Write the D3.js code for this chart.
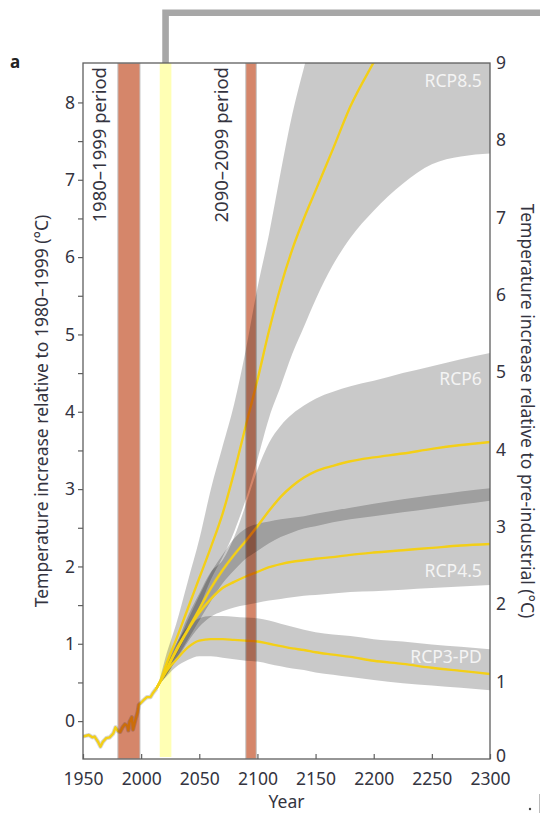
<!DOCTYPE html>
<html lang="en">
<head>
  <meta charset="UTF-8">
  <title>RCP temperature projections</title>
  <style>
    body { margin: 0; background: #fff; }
    text { font-family: "Noto Sans", "Open Sans", sans-serif; }
  </style>
</head>
<body>
  <svg id="chart" width="540" height="813"></svg>

  <script src="https://cdn.jsdelivr.net/npm/d3@7"></script>
  <script>
    // observed record (relative to 1980-1999)
    var histYears = [1950, 1955, 1958, 1960, 1963, 1965, 1967, 1970, 1973, 1976, 1978, 1980, 1982, 1984,
      1986, 1988, 1989, 1990, 1992, 1993, 1995, 1997, 1998, 2002, 2005, 2008, 2010, 2013];
    var histTemp = [-0.20, -0.18, -0.21, -0.20, -0.27, -0.33, -0.27, -0.22, -0.21, -0.16, -0.08, -0.13, -0.14, -0.08,
      -0.04, -0.06, -0.12, -0.01, 0.05, -0.11, 0.01, 0.12, 0.21, 0.27, 0.31, 0.31, 0.36, 0.42];

    // projection years shared by all scenarios
    var projYears = [2013, 2016, 2022, 2030, 2040, 2050, 2060, 2070, 2080, 2090, 2100, 2110, 2120, 2130,
      2140, 2150, 2165, 2180, 2200, 2225, 2250, 2275, 2300];

    var rcp85Mean = [0.42, 0.50, 0.75, 1.05, 1.45, 1.85, 2.25, 2.68, 3.22, 3.82, 4.41, 5.05, 5.62, 6.10,
      6.50, 6.86, 7.40, 7.95, 8.52, 9.20, 9.80, 10.30, 10.70];
    var rcp85Low = [0.42, 0.50, 0.65, 0.85, 1.15, 1.47, 1.83, 2.12, 2.45, 2.87, 3.38, 3.92, 4.33, 4.75,
      5.10, 5.45, 5.90, 6.25, 6.60, 6.95, 7.20, 7.30, 7.34];
    var rcp85High = [0.42, 0.55, 0.88, 1.25, 1.80, 2.35, 3.00, 3.55, 4.10, 4.80, 5.60, 6.30, 7.10, 7.85,
      8.45, 9.00, 9.80, 10.50, 11.20, 11.80, 12.30, 12.70, 13.00];

    var rcp6Mean = [0.42, 0.50, 0.68, 0.92, 1.18, 1.45, 1.72, 1.95, 2.15, 2.33, 2.52, 2.72, 2.90, 3.04,
      3.15, 3.23, 3.30, 3.36, 3.41, 3.46, 3.52, 3.57, 3.61];
    var rcp6Low = [0.42, 0.48, 0.60, 0.80, 1.05, 1.30, 1.55, 1.78, 1.95, 2.10, 2.20, 2.30, 2.38, 2.44,
      2.49, 2.52, 2.57, 2.61, 2.65, 2.70, 2.75, 2.80, 2.85];
    var rcp6High = [0.42, 0.52, 0.72, 0.98, 1.35, 1.65, 1.93, 2.08, 2.38, 2.80, 3.25, 3.60, 3.82, 3.97,
      4.08, 4.17, 4.26, 4.33, 4.40, 4.50, 4.59, 4.68, 4.76];

    var rcp45Mean = [0.42, 0.50, 0.67, 0.90, 1.17, 1.40, 1.58, 1.72, 1.80, 1.87, 1.93, 1.99, 2.03, 2.06,
      2.08, 2.10, 2.12, 2.15, 2.18, 2.21, 2.24, 2.27, 2.29];
    var rcp45Low = [0.42, 0.48, 0.60, 0.78, 1.02, 1.22, 1.35, 1.42, 1.47, 1.50, 1.53, 1.56, 1.58, 1.60,
      1.62, 1.63, 1.65, 1.67, 1.68, 1.70, 1.72, 1.74, 1.76];
    var rcp45High = [0.42, 0.52, 0.70, 0.95, 1.30, 1.62, 1.92, 2.15, 2.36, 2.49, 2.55, 2.58, 2.61, 2.63,
      2.65, 2.68, 2.72, 2.76, 2.81, 2.87, 2.92, 2.97, 3.01];

    var rcp3Mean = [0.42, 0.50, 0.65, 0.79, 0.95, 1.04, 1.06, 1.06, 1.05, 1.04, 1.03, 1.00, 0.97, 0.94,
      0.92, 0.89, 0.86, 0.83, 0.78, 0.74, 0.69, 0.65, 0.61];
    var rcp3Low = [0.42, 0.48, 0.58, 0.70, 0.79, 0.84, 0.84, 0.82, 0.80, 0.78, 0.77, 0.74, 0.71, 0.68,
      0.66, 0.63, 0.60, 0.57, 0.53, 0.49, 0.46, 0.43, 0.40];
    var rcp3High = [0.42, 0.52, 0.75, 1.00, 1.22, 1.33, 1.36, 1.36, 1.35, 1.34, 1.33, 1.30, 1.26, 1.22,
      1.18, 1.15, 1.12, 1.10, 1.06, 1.03, 0.99, 0.96, 0.93];

    var scenarioNames = ["RCP8.5", "RCP6", "RCP4.5", "RCP3-PD"];
    var scenarioMeans = [rcp85Mean, rcp6Mean, rcp45Mean, rcp3Mean];
    var scenarioLows = [rcp85Low, rcp6Low, rcp45Low, rcp3Low];
    var scenarioHighs = [rcp85High, rcp6High, rcp45High, rcp3High];
    // where each name sits: year it ends at, and temperature of its baseline
    var labelYear = [2293, 2293, 2293, 2293];
    var labelTemp = [8.2, 4.35, 1.86, 0.75];

    var periodStart = [1980, 2090];
    var periodEnd = [1999, 2099];
    var periodLabels = ["1980\u20131999 period", "2090\u20132099 period"];
    var nowStart = 2016, nowEnd = 2026;

    var yearTicks = [1950, 2000, 2050, 2100, 2150, 2200, 2250, 2300];
    var leftTicks = [0, 1, 2, 3, 4, 5, 6, 7, 8];
    var leftMinor = [0.5, 1.5, 2.5, 3.5, 4.5, 5.5, 6.5, 7.5];
    var rightTicks = [0, 1, 2, 3, 4, 5, 6, 7, 8, 9];

    var svg = d3.select("#chart"),
      margin = { top: 63, right: 50, bottom: 54, left: 83 },
      width = 540 - margin.left - margin.right,
      height = 813 - margin.top - margin.bottom;

    var x = d3.scaleLinear().domain([1950, 2300]).range([margin.left, margin.left + width]),
      yL = d3.scaleLinear().domain([-0.49, 8.51]).range([margin.top + height, margin.top]),
      yR = d3.scaleLinear().domain([0, 9]).range([margin.top + height, margin.top]);

    var fontSize = 17.5,
      ink = "#34343f",
      gold = "#f3cf17",
      barColor = "#d5866a";

    svg.append("defs").append("clipPath").attr("id", "plot")
      .append("rect")
      .attr("x", margin.left).attr("y", margin.top)
      .attr("width", width).attr("height", height);

    var plot = svg.append("g").attr("clip-path", "url(#plot)");

    // grey ranges
    scenarioNames.forEach(function(name, i) {
      var pts = projYears.map(function(yr, j) {
        return { year: yr, lo: scenarioLows[i][j], hi: scenarioHighs[i][j] };
      });
      plot.append("path")
        .datum(pts)
        .attr("fill", "#000")
        .attr("fill-opacity", 0.21)
        .attr("d", d3.area()
          .curve(d3.curveMonotoneX)
          .x(function(d) { return x(d.year); })
          .y0(function(d) { return yL(d.lo); })
          .y1(function(d) { return yL(d.hi); }));
    });

    // observed line with faint grey halo
    var hist = histYears.map(function(yr, j) { return { year: yr, t: histTemp[j] }; });
    var histLine = d3.line()
      .x(function(d) { return x(d.year); })
      .y(function(d) { return yL(d.t); });
    plot.append("path").datum(hist)
      .attr("fill", "none").attr("stroke", "#8a8a8a").attr("stroke-opacity", 0.35)
      .attr("stroke-width", 4.2).attr("stroke-linejoin", "round")
      .attr("d", histLine);
    plot.append("path").datum(hist)
      .attr("fill", "none").attr("stroke", gold)
      .attr("stroke-width", 2.4).attr("stroke-linejoin", "round")
      .attr("d", histLine);

    // scenario means
    var meanLine = d3.line()
      .curve(d3.curveMonotoneX)
      .x(function(d) { return x(d.year); })
      .y(function(d) { return yL(d.t); });
    scenarioMeans.forEach(function(vals) {
      var pts = projYears.map(function(yr, j) { return { year: yr, t: vals[j] }; });
      plot.append("path").datum(pts)
        .attr("fill", "none").attr("stroke", gold)
        .attr("stroke-width", 2.4)
        .attr("d", meanLine);
    });

    // period bars and the pale "now" bar, multiplied over everything below
    plot.selectAll(".period")
      .data(periodStart)
      .enter().append("rect")
      .attr("class", "period")
      .attr("x", function(d) { return x(d); })
      .attr("width", function(d, i) { return x(periodEnd[i]) - x(d); })
      .attr("y", margin.top)
      .attr("height", height)
      .attr("fill", barColor)
      .attr("stroke", "#c4c4c4")
      .attr("stroke-width", 1)
      .style("mix-blend-mode", "multiply");

    plot.append("rect")
      .attr("x", x(nowStart))
      .attr("width", x(nowEnd) - x(nowStart))
      .attr("y", margin.top)
      .attr("height", height - 2)
      .attr("fill", "#ffffb4")
      .style("mix-blend-mode", "multiply");

    // grey bracket leading off to the right
    var midNow = (x(nowStart) + x(nowEnd)) / 2;
    svg.append("path")
      .attr("d", "M" + midNow + "," + margin.top + "V12.7H540")
      .attr("fill", "none")
      .attr("stroke", "#a7a7a7")
      .attr("stroke-width", 6.6);

    // frame
    svg.append("rect")
      .attr("x", margin.left).attr("y", margin.top)
      .attr("width", width).attr("height", height)
      .attr("fill", "none").attr("stroke", "#5f5f5f").attr("stroke-width", 1.3);

    // axes
    svg.append("g").attr("transform", "translate(" + margin.left + ",0)")
      .call(d3.axisLeft(yL).tickValues(leftTicks).tickSize(5).tickPadding(3).tickFormat(d3.format("d")));
    svg.append("g").attr("transform", "translate(" + margin.left + ",0)")
      .call(d3.axisLeft(yL).tickValues(leftMinor).tickSize(5).tickFormat(""));
    var gRight = svg.append("g").attr("transform", "translate(" + (margin.left + width) + ",0)")
      .call(d3.axisRight(yR).tickValues(rightTicks).tickSize(0).tickPadding(6).tickFormat(d3.format("d")));
    svg.append("g").attr("transform", "translate(0," + (margin.top + height) + ")")
      .call(d3.axisBottom(x).tickValues(yearTicks).tickSize(-5).tickPadding(14).tickFormat(d3.format("d")));

    svg.selectAll(".domain").remove();
    svg.selectAll(".tick line").attr("stroke", "#5f5f5f").attr("stroke-width", 1.2);
    svg.selectAll(".tick text")
      .attr("fill", ink)
      .style("font-size", fontSize + "px")
      .style("font-family", "'Noto Sans', sans-serif");
    // the right-hand zero sits tight against the year labels
    gRight.selectAll(".tick text").filter(function(d) { return d === 0; }).attr("dy", "0.12em");

    // axis titles
    svg.append("text")
      .attr("transform", "translate(48," + (margin.top + height / 2) + ") rotate(-90)")
      .attr("text-anchor", "middle")
      .attr("fill", ink)
      .style("font-size", fontSize + "px")
      .text("Temperature increase relative to 1980\u20131999 (\u00B0C)");

    svg.append("text")
      .attr("transform", "translate(521," + (margin.top + height / 2) + ") rotate(90)")
      .attr("text-anchor", "middle")
      .attr("fill", ink)
      .style("font-size", fontSize + "px")
      .text("Temperature increase relative to pre-industrial (\u00B0C)");

    svg.append("text")
      .attr("x", margin.left + width / 2)
      .attr("y", 808)
      .attr("text-anchor", "middle")
      .attr("fill", ink)
      .style("font-size", fontSize + "px")
      .text("Year");

    // period labels, written upward beside each bar
    var labelShift = [-12, -18];
    periodStart.forEach(function(yr, i) {
      svg.append("text")
        .attr("transform", "translate(" + (x(yr) + labelShift[i]) + "," + (margin.top + 4) + ") rotate(-90)")
        .attr("text-anchor", "end")
        .attr("fill", ink)
        .style("font-size", "18.5px")
        .text(periodLabels[i]);
    });

    // scenario names
    scenarioNames.forEach(function(name, i) {
      svg.append("text")
        .attr("x", x(labelYear[i]))
        .attr("y", yL(labelTemp[i]))
        .attr("text-anchor", "end")
        .attr("fill", "#f4f4f4")
        .style("font-size", fontSize + "px")
        .text(name);
    });

    // panel letter
    svg.append("text")
      .attr("x", 10).attr("y", 68)
      .attr("fill", "#222")
      .style("font-size", "17px")
      .style("font-weight", "bold")
      .text("a");

    // bits of the neighbouring panel at the bottom right corner
    svg.append("line")
      .attr("x1", 539.5).attr("x2", 539.5).attr("y1", 794).attr("y2", 813)
      .attr("stroke", "#bbb").attr("stroke-width", 1);
    svg.append("circle")
      .attr("cx", 530).attr("cy", 809).attr("r", 1.2).attr("fill", "#444");
  </script>
</body>
</html>
